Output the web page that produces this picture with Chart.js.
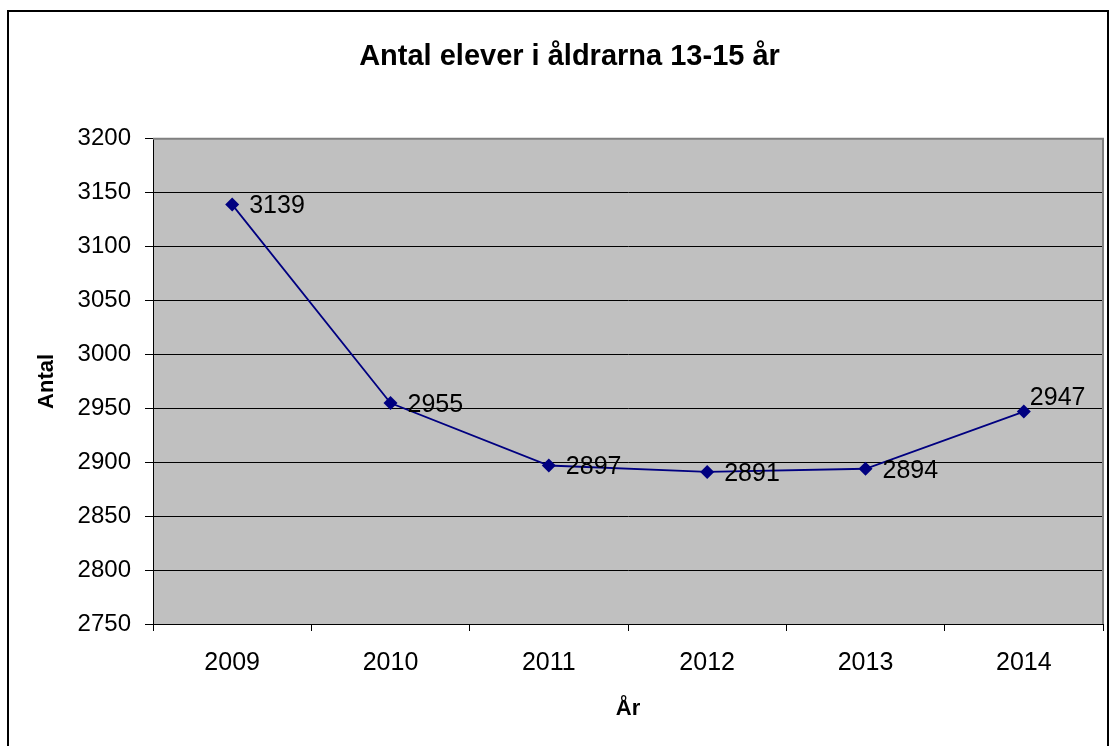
<!DOCTYPE html>
<html>
<head>
<meta charset="utf-8">
<script src="https://cdn.jsdelivr.net/npm/chart.js@4.4.1/dist/chart.umd.min.js"></script>
<style>
  html, body { margin: 0; padding: 0; background: #fff; }
  #wrap { width: 1110px; height: 746px; }
</style>
</head>
<body>
<div id="wrap"><canvas id="elevChart" width="1110" height="746"></canvas></div>
<script>
// Data
const years = ["2009", "2010", "2011", "2012", "2013", "2014"];
const pupils = [3139, 2955, 2897, 2891, 2894, 2947];
const yMin = 2750;
const yMax = 3200;
const yStep = 50;

const navy = "#000080";
const fontFamily = "Arial, 'Liberation Sans', sans-serif";

/**
 * Gray plot background plus outer frame of the whole chart
 */
const frameAndBackground = {
  id: "frameAndBackground",
  beforeDraw: (chart) => {
    const { ctx, chartArea: a } = chart;
    ctx.save();
    ctx.fillStyle = "#fff";
    ctx.fillRect(0, 0, chart.width, chart.height);
    ctx.fillStyle = "#c0c0c0";
    ctx.fillRect(a.left, a.top, a.right - a.left, a.bottom - a.top);
    ctx.strokeStyle = "#000";
    ctx.lineWidth = 2;
    ctx.strokeRect(8, 11, 1100, 745);
    ctx.restore();
  },
  afterDatasetsDraw: (chart) => {
    const { ctx, chartArea: a } = chart;
    ctx.save();
    // top and right edges of the plot area in gray
    ctx.strokeStyle = "#808080";
    ctx.lineWidth = 2;
    ctx.beginPath();
    ctx.moveTo(a.left, a.top);
    ctx.lineTo(a.right, a.top);
    ctx.lineTo(a.right, a.bottom);
    ctx.stroke();
    ctx.restore();
  },
};

/**
 * Value labels drawn to the right of each point
 * (moved up-left when they would crowd the plot edge)
 */
const valueLabels = {
  id: "valueLabels",
  afterDatasetsDraw: (chart) => {
    const { ctx, chartArea: a } = chart;
    const meta = chart.getDatasetMeta(0);
    ctx.save();
    ctx.font = "25px " + fontFamily;
    ctx.fillStyle = "#000";
    ctx.textAlign = "left";
    ctx.textBaseline = "middle";
    meta.data.forEach((pt, i) => {
      const text = String(pupils[i]);
      const w = ctx.measureText(text).width;
      let x = pt.x + 17;
      let y = pt.y + 2;
      if (x + w > a.right - 15) {
        x = pt.x + 6;
        y = pt.y - 13;
      }
      ctx.fillText(text, x, y);
    });
    ctx.restore();
  },
};

const ctx = document.getElementById("elevChart").getContext("2d");

const elevChart = new Chart(ctx, {
  type: "line",
  data: {
    labels: years,
    datasets: [
      {
        label: "Antal",
        data: pupils,
        borderColor: navy,
        backgroundColor: navy,
        borderWidth: 1.8,
        tension: 0,
        pointStyle: "rectRot",
        pointRadius: 7,
        pointBorderWidth: 0,
      },
    ],
  },
  options: {
    responsive: false,
    animation: false,
    devicePixelRatio: 1,
    layout: {
      padding: { top: 0, right: 5, bottom: 24, left: 34 },
    },
    scales: {
      x: {
        offset: true,
        grid: {
          offset: true,
          drawOnChartArea: false,
          drawTicks: true,
          tickLength: 7,
          color: "#000",
        },
        border: { color: "#000", width: 1 },
        ticks: {
          color: "#000",
          padding: 17,
          font: { family: fontFamily, size: 25 },
        },
        title: {
          display: true,
          text: "År",
          color: "#000",
          padding: { top: 0, bottom: 0 },
          font: { family: fontFamily, size: 22, weight: "bold" },
        },
        afterFit: (scale) => {
          scale.height = 98;
        },
      },
      y: {
        min: yMin,
        max: yMax,
        grid: {
          color: "#000",
          lineWidth: 1,
          tickLength: 8,
        },
        border: { color: "#000", width: 1 },
        ticks: {
          stepSize: yStep,
          color: "#000",
          padding: 14,
          font: { family: fontFamily, size: 24 },
          callback: (value) => String(value),
        },
        title: {
          display: true,
          text: "Antal",
          color: "#000",
          padding: { top: 0, bottom: 0 },
          font: { family: fontFamily, size: 22, weight: "bold" },
        },
        afterFit: (scale) => {
          scale.width = 119;
        },
      },
    },
    plugins: {
      legend: { display: false },
      tooltip: { enabled: false },
      title: {
        display: true,
        text: "Antal elever i åldrarna 13-15 år",
        color: "#000",
        padding: { top: 40, bottom: 64 },
        font: { family: fontFamily, size: 29, weight: "bold" },
      },
    },
  },
  plugins: [frameAndBackground, valueLabels],
});
</script>
</body>
</html>
